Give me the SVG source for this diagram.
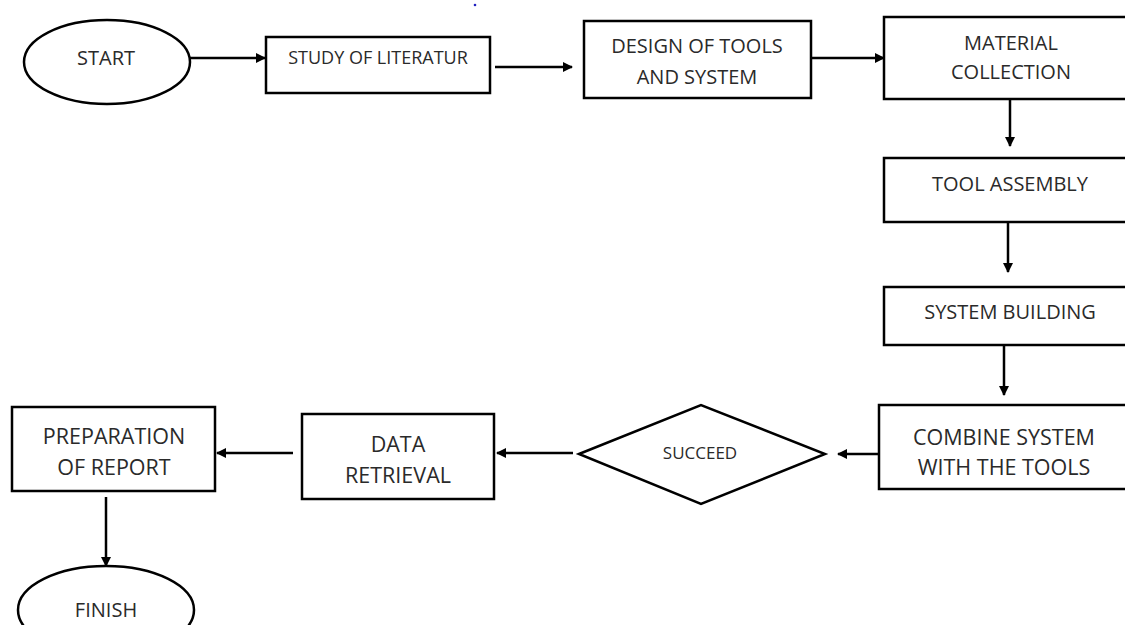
<svg xmlns="http://www.w3.org/2000/svg" width="1125" height="625" viewBox="0 0 1125 625">
<defs>
<marker id="ah" markerWidth="10" markerHeight="10" refX="9" refY="5" orient="auto" markerUnits="userSpaceOnUse">
<path d="M0,0 L10,5 L0,10 Z" fill="#000"/>
</marker>
<style>
.box{fill:#fff;stroke:#000;stroke-width:2.5}
.t{font-family:"Open Sans","Noto Sans",sans-serif;font-size:20px;fill:#2a2a2a;text-anchor:middle;dominant-baseline:central}
.sm{font-size:18px}
.s{font-size:17px}
.lg{font-size:21.5px}
.c{stroke:#000;stroke-width:2.5;fill:none;marker-end:url(#ah)}
</style>
</defs>
<rect width="1125" height="625" fill="#fff"/>
<circle cx="475" cy="5" r="1.3" fill="#2020c0"/>
<g id="connectors">
<line class="c" x1="190" y1="58" x2="265" y2="58"/>
<line class="c" x1="495" y1="67" x2="572" y2="67"/>
<line class="c" x1="811" y1="58" x2="884" y2="58"/>
<line class="c" x1="1010" y1="99" x2="1010" y2="146"/>
<line class="c" x1="1008" y1="222" x2="1008" y2="272"/>
<line class="c" x1="1004" y1="345" x2="1004" y2="395"/>
<line class="c" x1="879" y1="454" x2="838" y2="454"/>
<line class="c" x1="573" y1="453" x2="497" y2="453"/>
<line class="c" x1="293" y1="453" x2="217" y2="453"/>
<line class="c" x1="106" y1="497" x2="106" y2="566"/>
</g>
<g id="start">
<ellipse class="box" cx="107" cy="62" rx="83" ry="42"/>
<text class="t" x="106" y="57">START</text>
</g>
<g id="study">
<rect class="box" x="266" y="37" width="224" height="56"/>
<text class="t sm" x="378" y="57">STUDY OF LITERATUR</text>
</g>
<g id="design">
<rect class="box" x="584" y="21" width="227" height="77"/>
<text class="t" x="697" y="45">DESIGN OF TOOLS</text>
<text class="t" x="697" y="76">AND SYSTEM</text>
</g>
<g id="material">
<rect class="box" x="884" y="17" width="250" height="82"/>
<text class="t" x="1011" y="42">MATERIAL</text>
<text class="t" x="1011" y="71">COLLECTION</text>
</g>
<g id="tool-assembly">
<rect class="box" x="884" y="158" width="250" height="64"/>
<text class="t" x="1010" y="183">TOOL ASSEMBLY</text>
</g>
<g id="system-building">
<rect class="box" x="884" y="287" width="250" height="58"/>
<text class="t" x="1010" y="311">SYSTEM BUILDING</text>
</g>
<g id="combine">
<rect class="box" x="879" y="405" width="255" height="84"/>
<text class="t lg" x="1004" y="436">COMBINE SYSTEM</text>
<text class="t lg" x="1004" y="466">WITH THE TOOLS</text>
</g>
<g id="succeed">
<polygon class="box" points="579,454 701,405 825,454 701,504"/>
<text class="t s" x="700" y="452">SUCCEED</text>
</g>
<g id="data-retrieval">
<rect class="box" x="302" y="414" width="192" height="85"/>
<text class="t lg" x="398" y="443">DATA</text>
<text class="t lg" x="398" y="474">RETRIEVAL</text>
</g>
<g id="preparation">
<rect class="box" x="12" y="407" width="203" height="84"/>
<text class="t lg" x="114" y="435">PREPARATION</text>
<text class="t lg" x="114" y="466">OF REPORT</text>
</g>
<g id="finish">
<ellipse class="box" cx="106" cy="610" rx="88" ry="44"/>
<text class="t" x="106" y="609">FINISH</text>
</g>
</svg>
